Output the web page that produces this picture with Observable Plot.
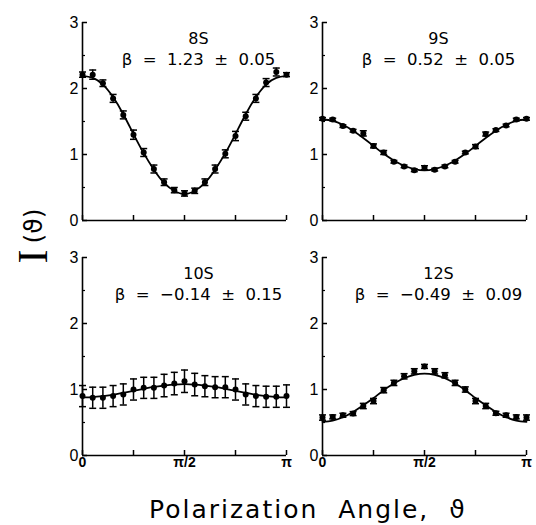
<!DOCTYPE html>
<html><head><meta charset="utf-8">
<script src="https://cdn.jsdelivr.net/npm/d3@7"></script>
<script src="https://cdn.jsdelivr.net/npm/@observablehq/plot@0.6"></script>
<style>
html,body{margin:0;padding:0;background:#fff;}
#chart{position:relative;width:536px;height:525px;background:#fff;overflow:hidden;}
.panel{position:absolute;}
#xtitle{position:absolute;left:149px;top:497px;font-family:"DejaVu Sans";font-size:25px;line-height:25px;letter-spacing:2px;white-space:pre;color:#000;}
#ytitle{position:absolute;left:28px;top:236px;transform:translate(-50%,-50%) rotate(-90deg);white-space:nowrap;line-height:1;color:#000;}
#ytitle .I{font-family:"Liberation Serif";font-size:42px;position:relative;top:5px;margin-right:6px;}
#ytitle .p{font-family:"DejaVu Sans";font-size:25px;}
</style></head><body>
<div id="chart">
  <div id="ytitle"><span class="I">I</span><span class="p">(ϑ)</span></div>
  <div id="xtitle">Polarization  Angle,  ϑ</div>
</div>
<script>
// polarization angle, degrees
const angles = [0,9,18,27,36,45,54,63,72,81,90,99,108,117,126,135,144,153,162,171,180];

const names = ["8S","9S","10S","12S"];
const betas = ["β  =  1.23  ±  0.05","β  =  0.52  ±  0.05","β  =  −0.14  ±  0.15","β  =  −0.49  ±  0.09"];

const s8Values = [2.21,2.21,2.08,1.85,1.60,1.30,1.03,0.78,0.58,0.46,0.41,0.45,0.58,0.78,1.01,1.28,1.58,1.85,2.09,2.25,2.21];
const s8Errors = [0.04,0.07,0.05,0.06,0.06,0.07,0.06,0.06,0.05,0.04,0.04,0.04,0.05,0.06,0.06,0.07,0.06,0.06,0.06,0.06,0.03];
const s8Fit    = [2.19,2.16,2.06,1.87,1.61,1.31,1.02,0.77,0.57,0.45,0.40,0.45,0.57,0.77,1.02,1.31,1.61,1.87,2.06,2.16,2.19];

const s9Values = [1.54,1.53,1.43,1.36,1.32,1.13,1.03,0.89,0.82,0.76,0.80,0.77,0.82,0.89,1.03,1.12,1.31,1.37,1.44,1.53,1.54];
const s9Errors = [0.02,0.02,0.02,0.02,0.04,0.03,0.03,0.02,0.02,0.02,0.03,0.02,0.02,0.02,0.02,0.03,0.03,0.02,0.02,0.02,0.02];
const s9Fit    = [1.53,1.51,1.45,1.36,1.25,1.13,1.01,0.91,0.83,0.78,0.76,0.78,0.83,0.91,1.01,1.13,1.25,1.36,1.45,1.51,1.53];

const s10Values = [0.90,0.875,0.875,0.90,0.925,1.00,1.025,1.025,1.06,1.09,1.125,1.075,1.05,1.035,1.035,1.00,0.925,0.90,0.89,0.89,0.90];
const s10Errors = [0.16,0.16,0.16,0.16,0.16,0.16,0.16,0.16,0.17,0.17,0.17,0.17,0.16,0.16,0.16,0.16,0.16,0.16,0.16,0.16,0.17];
const s10Fit    = [0.88,0.885,0.90,0.92,0.95,0.98,1.01,1.04,1.06,1.075,1.08,1.075,1.06,1.04,1.01,0.98,0.95,0.92,0.90,0.885,0.88];

const s12Values = [0.575,0.585,0.61,0.635,0.75,0.825,0.99,1.10,1.20,1.275,1.35,1.275,1.215,1.10,1.00,0.825,0.75,0.64,0.61,0.585,0.575];
const s12Errors = [0.04,0.03,0.03,0.03,0.04,0.04,0.04,0.04,0.04,0.04,0.03,0.04,0.04,0.04,0.04,0.04,0.04,0.03,0.03,0.03,0.04];
const s12Fit    = [0.51,0.53,0.58,0.66,0.76,0.87,0.99,1.09,1.17,1.22,1.24,1.22,1.17,1.09,0.99,0.87,0.76,0.66,0.58,0.53,0.51];

const yMajor = [0,1,2,3];
const yMinor = [0.5,1.5,2.5];
const xTicks = [0,45,90,135,180];
const xLabelAt = [0,90,180];
const xLabelText = ["0","π/2","π"];

const capSymbol = {draw(ctx, size){ const r = Math.sqrt(size/Math.PI); ctx.moveTo(-r,0); ctx.lineTo(r,0); }};

function panel(i, values, errors, fit, left, top, xLabels){
  const W = 204, H = 198, mL = 30, mR = 12, mT = 6, mB = xLabels ? 26 : 10;
  const data = angles.map((a,k)=>({a, v: values[k], e: errors[k]}));
  const fitData = angles.map((a,k)=>({a, v: fit[k]}));
  const marks = [
    Plot.axisY(yMajor, {tickSize: 0, tickPadding: 4, tickFormat: d=>String(d), fontSize: 16, fontFamily: "Liberation Sans", label: null}),
    Plot.tickY(yMajor, {y: d=>d, insetRight: W-5, strokeWidth: 1.5}),
    Plot.tickY(yMinor, {y: d=>d, insetRight: W-3, strokeWidth: 1.2}),
    Plot.tickX(xTicks, {x: d=>d, insetTop: H-5, strokeWidth: 1.5}),
    Plot.ruleX([0], {strokeWidth: 1.6}),
    Plot.ruleY([0], {strokeWidth: 1.6}),
    Plot.line(fitData, {x: "a", y: "v", curve: "natural", strokeWidth: 1.8}),
    Plot.ruleX(data, {x: "a", y1: d=>d.v-d.e, y2: d=>d.v+d.e, strokeWidth: 1.5}),
    Plot.dot(data, {x: "a", y: d=>d.v-d.e, symbol: capSymbol, r: 3.5, fill: "none", stroke: "black", strokeWidth: 1.5}),
    Plot.dot(data, {x: "a", y: d=>d.v+d.e, symbol: capSymbol, r: 3.5, fill: "none", stroke: "black", strokeWidth: 1.5}),
    Plot.dot(data, {x: "a", y: "v", r: 3, fill: "black"}),
    Plot.text([names[i]], {text: d=>d, frameAnchor: "top", dx: 14, dy: 10, fontSize: 16, fontFamily: "DejaVu Sans"}),
    Plot.text([betas[i]], {text: d=>d, frameAnchor: "top", dx: 14, dy: 31, fontSize: 16.5, fontFamily: "DejaVu Sans"})
  ];
  if (xLabels) marks.push(Plot.axisX(xLabelAt, {tickSize: 0, tickPadding: 2, tickFormat: d=>xLabelText[xLabelAt.indexOf(d)], fontSize: 14, fontWeight: "bold", fontFamily: "Liberation Sans", label: null}));
  const p = Plot.plot({
    width: mL+W+mR, height: mT+H+mB,
    marginLeft: mL, marginRight: mR, marginTop: mT, marginBottom: mB,
    x: {domain: [0,180], axis: xLabels ? undefined : null},
    y: {domain: [0,3]},
    style: {background: "none", overflow: "visible", color: "black", fontFamily: "Liberation Sans"},
    marks
  });
  p.classList.add("panel");
  p.style.left = (left - mL) + "px";
  p.style.top = (top - mT) + "px";
  p.style.maxWidth = "none";
  document.getElementById("chart").appendChild(p);
}

panel(0, s8Values, s8Errors, s8Fit, 82, 22, false);
panel(1, s9Values, s9Errors, s9Fit, 322, 22, false);
panel(2, s10Values, s10Errors, s10Fit, 82, 257, true);
panel(3, s12Values, s12Errors, s12Fit, 322, 257, true);
</script>
</body></html>
